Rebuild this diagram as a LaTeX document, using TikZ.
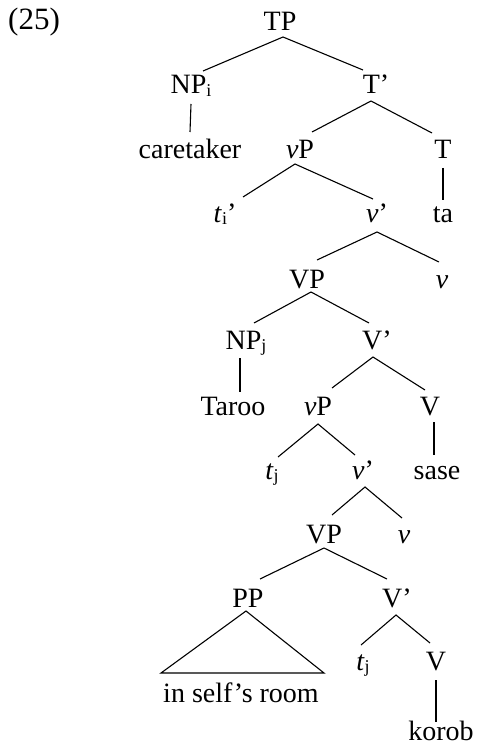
\documentclass[tikz,border=0pt]{standalone}
\usepackage{fontspec}
\setmainfont{Liberation Serif}
\newcommand{\sbs}[1]{\raisebox{-2.5pt}{\fontsize{18}{18}\selectfont #1}}
\begin{document}
\begin{tikzpicture}[x=1pt,y=-1pt,
  lab/.style={anchor=base,inner sep=0pt,font=\fontsize{28}{30}\selectfont},
  br/.style={line width=1.1pt,black}]
\useasboundingbox (0,0) rectangle (477,746);
% nodes
\node[lab,anchor=base west,font=\fontsize{31}{33}\selectfont] (ex) at (8,30) {(25)};
\node[lab] (TP) at (280,31) {TP};
\node[lab] (NPi) at (191,94) {NP\sbs{i}};
\node[lab] (Tb) at (376,94) {T’};
\node[lab] (care) at (190,159) {caretaker};
\node[lab] (vPa) at (300,159) {\textit{v}P};
\node[lab] (T) at (443,159) {T};
\node[lab] (ti) at (225,222) {\textit{t}\sbs{i}’};
\node[lab] (vba) at (377,222) {\textit{v}’};
\node[lab] (ta) at (443,222) {ta};
\node[lab] (VPa) at (307,288) {VP};
\node[lab] (va) at (442,288) {\textit{v}};
\node[lab] (NPj) at (246,349) {NP\sbs{j}};
\node[lab] (Vba) at (377,349) {V’};
\node[lab] (Taroo) at (233,415) {Taroo};
\node[lab] (vPb) at (318,415) {\textit{v}P};
\node[lab] (Va) at (430,415) {V};
\node[lab] (tja) at (272,479) {\textit{t}\sbs{j}};
\node[lab] (vbb) at (363,479) {\textit{v}’};
\node[lab] (sase) at (437,479) {sase};
\node[lab] (VPb) at (324,543) {VP};
\node[lab] (vb) at (404,543) {\textit{v}};
\node[lab] (PP) at (248,607) {PP};
\node[lab] (Vbb) at (397,607) {V’};
\node[lab] (room) at (241,702) {in self’s room};
\node[lab] (tjb) at (363,670) {\textit{t}\sbs{j}};
\node[lab] (Vb) at (436,670) {V};
\node[lab] (korob) at (441,740) {korob};
% branches
\draw[br] ([shift={(12,-23)}]NPi.base) -- ([shift={(3,6)}]TP.base) -- ([shift={(-13,-24)}]Tb.base);
\draw[br] ([shift={(0,10)}]NPi.base) -- ([shift={(0,-27)}]care.base);
\draw[br] ([shift={(12,-27)}]vPa.base) -- ([shift={(-5,7)}]Tb.base) -- ([shift={(-11,-26)}]T.base);
\draw[br] ([shift={(18,-25)}]ti.base) -- ([shift={(-5,5)}]vPa.base) -- ([shift={(-4,-23)}]vba.base);
\draw[br] ([shift={(0,9)}]T.base) -- ([shift={(0,-22)}]ta.base);
\draw[br] ([shift={(10,-28)}]VPa.base) -- ([shift={(0,10)}]vba.base) -- ([shift={(-3,-26)}]va.base);
\draw[br] ([shift={(8,-26)}]NPj.base) -- ([shift={(4,4)}]VPa.base) -- ([shift={(-8,-26)}]Vba.base);
\draw[br] ([shift={(-6,9)}]NPj.base) -- ([shift={(7,-23)}]Taroo.base);
\draw[br] ([shift={(14,-27)}]vPb.base) -- ([shift={(-4,8)}]Vba.base) -- ([shift={(-5,-25)}]Va.base);
\draw[br] ([shift={(6,-22)}]tja.base) -- ([shift={(0,9)}]vPb.base) -- ([shift={(-8,-24)}]vbb.base);
\draw[br] ([shift={(4,7)}]Va.base) -- ([shift={(-3,-24)}]sase.base);
\draw[br] ([shift={(8,-28)}]VPb.base) -- ([shift={(2,8)}]vbb.base) -- ([shift={(-2,-25)}]vb.base);
\draw[br] ([shift={(12,-28)}]PP.base) -- ([shift={(0,5)}]VPb.base) -- ([shift={(-10,-28)}]Vbb.base);
\draw[br] ([shift={(-80,-29)}]room.base) -- ([shift={(-2,4)}]PP.base) -- ([shift={(83,-29)}]room.base) -- cycle;
\draw[br] ([shift={(-2,-25)}]tjb.base) -- ([shift={(-1,8)}]Vbb.base) -- ([shift={(-6,-27)}]Vb.base);
\draw[br] ([shift={(0,10)}]Vb.base) -- ([shift={(-5,-18)}]korob.base);
\end{tikzpicture}
\end{document}
